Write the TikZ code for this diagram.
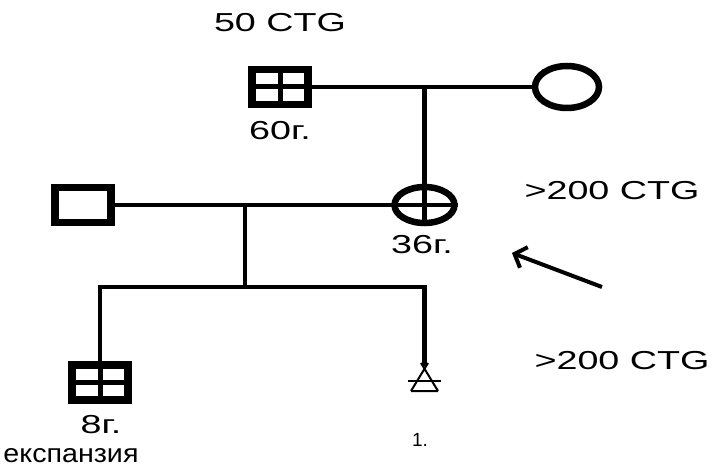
\documentclass[tikz,border=0pt]{standalone}
\usepackage{fontspec}
\setmainfont{Liberation Sans}
\usetikzlibrary{shapes.geometric,arrows.meta}

\tikzset{
  line/.style={line width=4.5pt},
  lbl/.style={font=\fontsize{26}{30}\selectfont, xscale=1.45, inner sep=0pt},
  male/.style={draw, rectangle, line width=7.5pt, minimum width=56pt, minimum height=35pt, inner sep=0pt},
  affmale/.style={male, path picture={
      \draw[line width=5pt] (path picture bounding box.north) -- (path picture bounding box.south);
      \draw[line width=5pt] (path picture bounding box.west) -- (path picture bounding box.east);}},
  female/.style={draw, ellipse, line width=6.5pt, inner sep=0pt}
}

\begin{document}
\begin{tikzpicture}[x=1pt,y=-1pt]
  \def \gone {87}
  \def \gtwo {205}
  \def \siby {287}
  \def \px {424.5}

  \useasboundingbox (0,0) rectangle (714,470);

  % first generation
  \node[affmale] (father) at (280,\gone) {};
  \node[female, minimum width=64pt, minimum height=42pt] (mother) at (567,\gone) {};
  \draw[line] (father.east) -- (mother.west);
  \coordinate (top) at (\px,\gone);

  % second generation
  \node[male] (husband) at (83,\gtwo) {};
  \node[female, minimum width=60pt, minimum height=36pt] (proband) at (\px,\gtwo) {};
  \draw[line] (top) -- (proband.south);
  \draw[line] (husband.east) -- (proband.east);
  \coordinate (mar) at (245,\gtwo);
  \coordinate (sib) at (245,\siby);
  \draw[line] (mar) -- (sib);

  % third generation
  \coordinate (sibL) at (100,\siby);
  \coordinate (sibR) at (\px,\siby);
  \draw[line, line cap=rect] (sibL) -- (sibR);
  \node[affmale] (child) at (100,382.5) {};
  \coordinate (preg) at (\px,366);
  \draw[line] (sibL) -- (child.north);
  \draw[line] (sibR) -- (preg);
  \draw[line width=2pt] (411,391) -- (428,363) (438,391) -- (421,363) (411,391) -- (438,391);
  \draw[line width=2pt] (408,381) -- (441,381);

  % arrow to proband
  \coordinate (arrS) at (602,287);
  \coordinate (arrE) at (512,253);
  \draw[line width=4pt, -{Straight Barb[length=10pt,width=22pt]}] (arrS) -- (arrE);

  % labels
  \node[lbl] (ctgA) at (280,23) {50 CTG};
  \node[lbl] (ctgB) at (612,190.5) {>200 CTG};
  \node[lbl] (ctgC) at (622,360.5) {>200 CTG};
  \node[lbl] (ageF) at (280,131) {60г.};
  \node[lbl] (ageP) at (422,245) {36г.};
  \node[lbl] (ageC) at (101,425) {8г.};
  \node[lbl, xscale=0.76] (exp) at (71,456) {експанзия};
  \node[font=\fontsize{19}{22}\selectfont, inner sep=0pt] (num) at (420,440) {1.};
\end{tikzpicture}
\end{document}
